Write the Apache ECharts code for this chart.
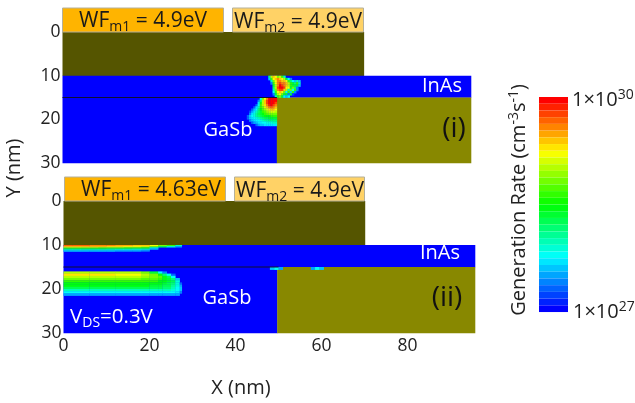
<!DOCTYPE html>
<html><head><meta charset="utf-8">
<style>html,body{margin:0;padding:0;background:#fff}#c{width:635px;height:403px;filter:blur(0.35px)}</style>
<script src="https://cdn.jsdelivr.net/npm/echarts@6/dist/echarts.min.js"></script>
</head><body><div id="c"></div>
<script>
// Tick labels
var xTicks = [0, 20, 40, 60, 80];
var yTicks = [0, 10, 20, 30];
// Device layers: [x start, x end, y start, y end] in nm, colour name
var layerNames = ['gate', 'InAs', 'GaSb', 'drain'];
var panel1Layers = [[0, 70.3, 0, 10], [0, 95.3, 10, 15], [0, 50, 15, 30], [50, 95.3, 15, 30]];
var panel2Layers = [[0, 70.1, 0, 10], [0, 95.7, 10, 15], [0, 49.7, 15, 30], [49.7, 95.7, 15, 30]];
var layerColors = ['#555500', '#0000ff', '#0000ff', '#888800'];
// Generation rate: tenths of a decade above 1e27, by row (top to bottom) and column
var hotInAsX = 48, hotInAsY = 10;
var hotInAs = [
 [12,20,24,22,18,20,16,10,0,0,0,0,0,0,0],
 [6,16,22,24,26,24,22,20,14,8,4,0,0,0,0],
 [0,10,18,22,26,26,24,24,22,16,12,8,6,10,6],
 [0,4,16,22,26,28,26,26,24,20,16,14,12,16,10],
 [0,0,14,20,26,30,28,26,24,20,16,14,14,14,6],
 [0,0,12,20,28,30,30,28,22,22,14,18,12,4,0],
 [0,0,10,18,26,28,28,24,20,10,18,8,16,4,0],
 [0,0,8,16,22,24,22,18,8,16,6,16,4,0,0],
 [0,0,4,14,20,22,18,14,14,4,14,2,0,0,0],
 [0,0,0,10,16,18,14,8,6,8,0,0,0,0,0]
];
var hotGaSbX = 43, hotGaSbY = 15;
var hotGaSb = [
 [0,0,0,0,0,0,8,18,22,26,30,30,30,30],
 [0,0,0,0,0,4,12,20,24,28,30,30,30,30],
 [0,0,0,0,0,7,15,20,24,28,30,30,30,28],
 [0,0,0,0,3,8,16,20,23,26,29,30,28,26],
 [0,0,0,3,7,10,16,18,21,24,26,27,26,24],
 [0,0,3,6,8,12,15,17,19,21,23,24,24,22],
 [0,2,5,7,10,12,14,16,17,19,20,21,21,20],
 [0,4,7,9,11,13,14,15,16,17,18,18,18,18],
 [3,6,8,9,11,12,13,14,15,15,15,16,16,16],
 [3,6,7,8,9,10,11,12,13,13,14,14,14,14],
 [0,4,6,7,8,8,9,10,11,11,12,12,12,12],
 [0,0,3,5,6,7,7,8,8,9,9,9,10,10],
 [0,0,0,0,3,5,6,6,7,7,7,7,7,7]
];
var stripEdges = [0,2,4,6,8,10,12,14,16,18,20,22,24,26,27.5];
var stripY = 10;
var strip = [
 [27,27,27,26,26,26,25,25,24,24,22,18,16,10],
 [24,24,24,24,24,23,23,22,22,21,18,13,9,5],
 [19,19,19,19,18,18,18,17,17,16,10,0,0,0],
 [14,14,14,14,14,13,13,13,12,12,6,0,0,0],
 [9,9,9,9,9,9,8,8,8,7,0,0,0,0],
 [5,5,5,5,5,5,4,4,4,3,0,0,0,0]
];
var poolEdges = [0,6,12,18,20,22,23,24,25,26,27,27.5];
var poolY = 16;
var pool = [
 [20,20,20,18,14,8,4,0,0,0,0],
 [23,23,22,20,18,15,12,8,3,0,0],
 [20,20,20,19,18,17,15,13,8,0,0],
 [18,18,18,17,17,16,15,14,12,6,0],
 [16,16,16,16,16,15,15,14,13,9,0],
 [15,15,15,15,15,15,14,13,12,9,3],
 [15,15,15,15,14,14,13,13,11,9,5],
 [13,13,13,13,13,13,12,12,10,8,6],
 [10,10,10,10,10,10,10,10,9,8,6],
 [8,8,8,8,8,8,8,8,8,7,4],
 [5,5,5,5,5,5,5,5,5,5,0]
];
var spotsX = [48, 49, 50, 57.5, 58.5, 59.5];
var spotsLevel = [6, 8, 5, 5, 8, 6];
var jet = ['#0000ff', '#00ffff', '#00ff00', '#ffff00', '#ff0000'];

function gridCells(x0, dx, y0, dy, rows) {
  var out = [];
  rows.forEach(function (r, i) { r.forEach(function (v, j) {
    if (v > 0) out.push([x0 + j * dx, x0 + (j + 1) * dx, y0 + i * dy, y0 + (i + 1) * dy, 27 + v / 10]);
  }); });
  return out;
}
function edgeCells(edges, y0, dy, rows) {
  var out = [];
  rows.forEach(function (r, i) { r.forEach(function (v, j) {
    if (v > 0) out.push([edges[j], edges[j + 1], y0 + i * dy, y0 + (i + 1) * dy, 27 + v / 10]);
  }); });
  return out;
}
function renderRect(params, api) {
  var a = api.coord([api.value(0), api.value(2)]);
  var b = api.coord([api.value(1), api.value(3)]);
  return { type: 'rect',
    shape: { x: a[0], y: a[1], width: b[0] - a[0] + 0.3, height: b[1] - a[1] + 0.3 },
    style: { fill: api.visual('color') } };
}
function layerSeries(layers, idx) {
  return { type: 'custom', xAxisIndex: idx, yAxisIndex: idx, silent: true, z: 1,
    data: layers.map(function (l, i) { return { name: layerNames[i], value: l, itemStyle: { color: layerColors[i] } }; }),
    renderItem: renderRect, encode: { x: [0, 1], y: [2, 3] } };
}
function rateSeries(cells, idx) {
  return { type: 'custom', xAxisIndex: idx, yAxisIndex: idx, silent: true, z: 2,
    data: cells, renderItem: renderRect, encode: { x: [0, 1], y: [2, 3] } };
}
function lineSeries(idx) {
  return { type: 'line', xAxisIndex: idx, yAxisIndex: idx, silent: true, z: 3, symbol: 'none', animation: false,
    lineStyle: { color: '#101030', width: 1.2 }, data: [[0, 15], [50, 15]] };
}
var tickFont = { fontFamily: 'Open Sans', fontSize: 17.5, color: '#222' };
function xAxis(idx, max, show) {
  return { type: 'value', gridIndex: idx, min: 0, max: max, interval: 20, show: show,
    axisLine: { show: false }, axisTick: { show: false }, splitLine: { show: false },
    axisLabel: Object.assign({ margin: 4, showMaxLabel: false }, tickFont) };
}
function yAxis(idx) {
  return { type: 'value', gridIndex: idx, min: 0, max: 30, interval: 10, inverse: true,
    axisLine: { show: false }, axisTick: { show: false }, splitLine: { show: false },
    axisLabel: Object.assign({ margin: 2 }, tickFont) };
}
var richWF = {
  b: { fontFamily: 'Open Sans', fontSize: 21, fill: '#1a1a1a' },
  s: { fontFamily: 'Open Sans', fontSize: 14, fill: '#1a1a1a', padding: [13, 0, 0, 0], verticalAlign: 'bottom' }
};
function box(x, y, w, h, color) {
  return { type: 'rect', shape: { x: x, y: y, width: w, height: h }, z: 5,
    style: { fill: color, stroke: '#b5b09a', lineWidth: 1 } };
}
function wf(text, cx, cy) {
  return { type: 'text', z: 6, x: cx, y: cy, style: { text: text, rich: richWF, align: 'center', verticalAlign: 'middle' } };
}
function txt(text, cx, cy, size, color, rot) {
  return { type: 'text', z: 6, x: cx, y: cy, rotation: rot || 0,
    style: { text: text, fontFamily: 'Open Sans', fontSize: size, fill: color, align: 'center', verticalAlign: 'middle' } };
}
var richW = {
  b: { fontFamily: 'Open Sans', fontSize: 20.5, fill: '#fff' },
  s: { fontFamily: 'Open Sans', fontSize: 14, fill: '#fff', padding: [12, 0, 0, 0], verticalAlign: 'bottom' }
};
var richK = {
  b: { fontFamily: 'Open Sans', fontSize: 20, fill: '#222' },
  p: { fontFamily: 'Open Sans', fontSize: 14, fill: '#222', padding: [0, 0, 9, 0], verticalAlign: 'top' }
};
function rich(text, r, cx, cy, align, rot) {
  return { type: 'text', z: 6, x: cx, y: cy, rotation: rot || 0,
    style: { text: text, rich: r, align: align, verticalAlign: 'middle' } };
}
var chart = echarts.init(document.getElementById('c'), null, { renderer: 'canvas' });
chart.setOption({
  animation: false, backgroundColor: '#fff',
  grid: [
    { left: 62.5, top: 32, width: 408.5, height: 131 },
    { left: 63.5, top: 201, width: 411.5, height: 132 }
  ],
  xAxis: [xAxis(0, 95.3, false), xAxis(1, 95.7, true)],
  yAxis: [yAxis(0), yAxis(1)],
  visualMap: {
    type: 'piecewise', min: 27, max: 30, splitNumber: 32, dimension: 4, seriesIndex: [1, 2, 5, 6],
    left: 539, top: 97, itemWidth: 29, itemHeight: 6.72, itemGap: 0, padding: 0,
    itemSymbol: 'rect', showLabel: false, selectedMode: false, hoverLink: false,
    inRange: { color: jet }
  },
  series: [
    layerSeries(panel1Layers, 0),
    rateSeries(gridCells(hotInAsX, 0.5, hotInAsY, 0.5, hotInAs), 0),
    rateSeries(gridCells(hotGaSbX, 0.5, hotGaSbY, 0.5, hotGaSb), 0),
    lineSeries(0),
    layerSeries(panel2Layers, 1),
    rateSeries(edgeCells(stripEdges, stripY, 0.25, strip), 1),
    rateSeries(edgeCells(poolEdges, poolY, 0.5, pool).concat(
      spotsX.map(function (x, i) { return [x, x + 1, 15, 15.6, 27 + spotsLevel[i] / 10]; })), 1),
    lineSeries(1)
  ],
  graphic: [
    box(62.5, 8, 161, 24, '#ffb400'), box(232.5, 8, 131, 24, '#ffd266'),
    box(64.5, 177, 161, 24, '#ffb400'), box(234.5, 177, 130, 24, '#ffd266'),
    wf('{b|WF}{s|m1}{b| = 4.9eV}', 143, 21), wf('{b|WF}{s|m2}{b| = 4.9eV}', 298, 22),
    wf('{b|WF}{s|m1}{b| = 4.63eV}', 151, 190), wf('{b|WF}{s|m2}{b| = 4.9eV}', 300, 191),
    txt('InAs', 442, 86, 20, '#ffffff'), txt('InAs', 440, 253, 20, '#ffffff'),
    txt('GaSb', 228, 130, 20, '#ffffff'), txt('GaSb', 227, 298, 20, '#ffffff'),
    txt('(i)', 454, 129, 28, '#111111'), txt('(ii)', 447, 298, 28, '#111111'),
    rich('{b|V}{s|DS}{b|=0.3V}', richW, 70, 317, 'left'),
    txt('Y (nm)', 14, 168, 20, '#222222', Math.PI / 2),
    txt('X (nm)', 241, 388, 20, '#222222'),
    rich('{b|Generation Rate (cm}{p|-3}{b|s}{p|-1}{b|)}', richK, 519, 200, 'center', Math.PI / 2),
    rich('{b|1×10}{p|30}', richK, 572, 100, 'left'),
    rich('{b|1×10}{p|27}', richK, 573, 312, 'left')
  ]
});
</script></body></html>
